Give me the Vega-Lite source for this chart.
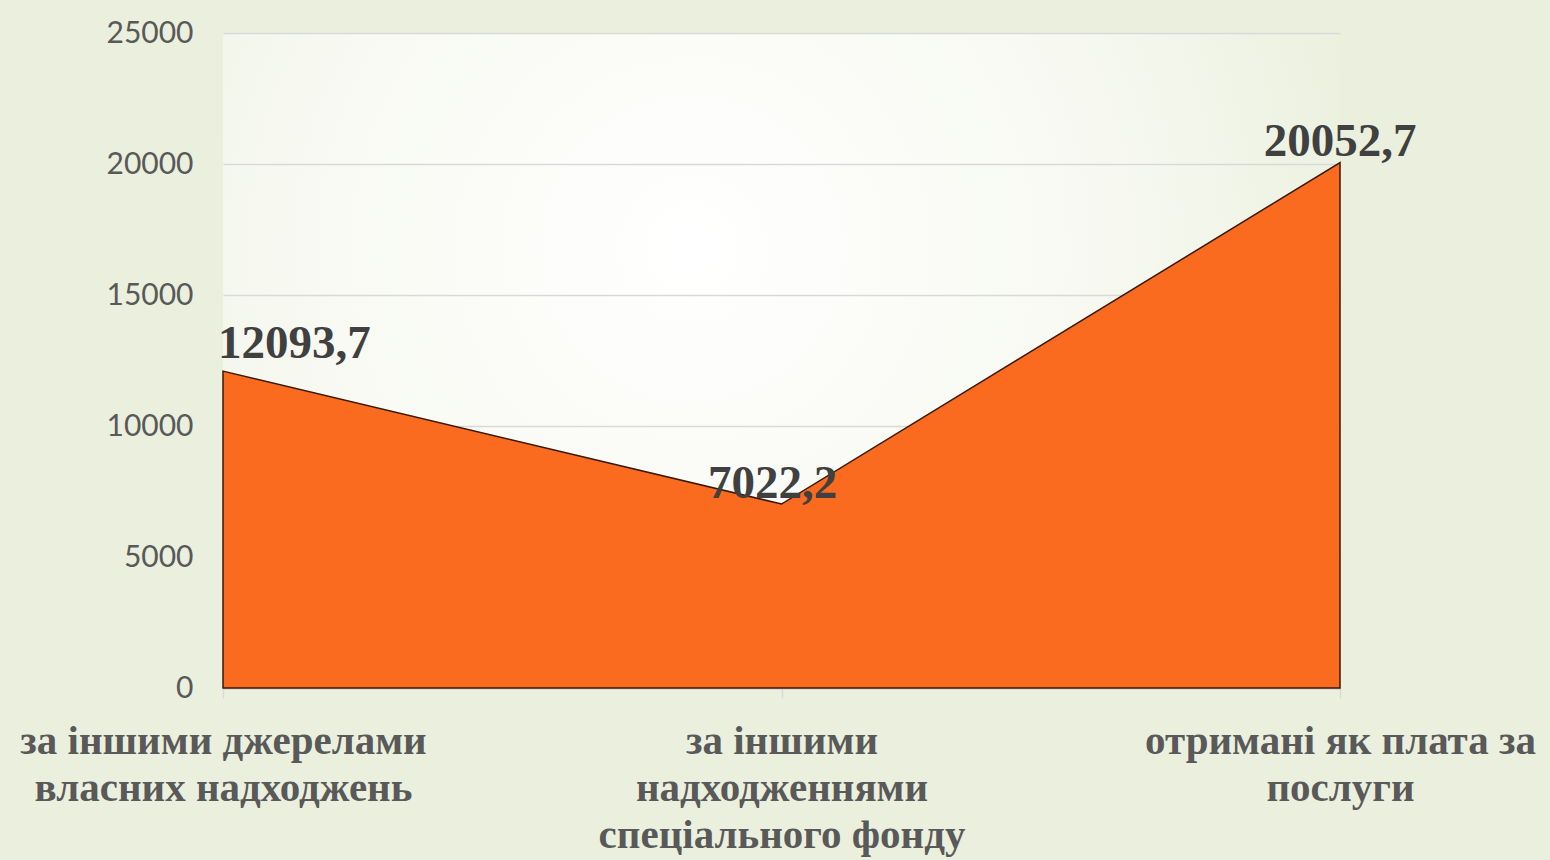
{
  "$schema": "https://vega.github.io/schema/vega-lite/v6.json",
  "width": 1117,
  "height": 655,
  "autosize": {"type": "none"},
  "padding": {"left": 223, "top": 33, "right": 210, "bottom": 172},
  "background": "#EBF0DE",
  "config": {
    "locale": {"number": {"decimal": ",", "thousands": "", "grouping": [3], "currency": ["", ""]}},
    "view": {
      "stroke": null,
      "fill": {
        "gradient": "radial",
        "x1": 0.42, "y1": 0.4, "r1": 0,
        "x2": 0.42, "y2": 0.4, "r2": 0.62,
        "stops": [
          {"offset": 0, "color": "#FFFFFF"},
          {"offset": 0.6, "color": "#F7F9F1"},
          {"offset": 1, "color": "#EBF0DE"}
        ]
      }
    }
  },
  "data": {
    "values": [
      {"cat": "за іншими джерелами|власних надходжень", "value": 12093.7},
      {"cat": "за іншими|надходженнями|спеціального фонду", "value": 7022.2},
      {"cat": "отримані як плата за|послуги", "value": 20052.7}
    ]
  },
  "encoding": {
    "x": {
      "field": "cat",
      "type": "nominal",
      "sort": null,
      "scale": {"type": "point", "padding": 0},
      "axis": {
        "title": null,
        "labelAngle": 0,
        "labelExpr": "split(datum.value, '|')",
        "labelFont": "Liberation Serif",
        "labelFontWeight": "bold",
        "labelFontSize": 41,
        "labelColor": "#595959",
        "labelLineHeight": 47,
        "labelBaseline": "alphabetic",
        "labelPadding": 55,
        "labelLimit": 0,
        "labelOverlap": false,
        "labelBound": false,
        "labelFlush": false,
        "domainColor": "#D0D0D0",
        "domainWidth": 2,
        "tickColor": "#D9D9D9",
        "tickWidth": 1.5,
        "tickSize": 10,
        "grid": false
      }
    },
    "y": {
      "field": "value",
      "type": "quantitative",
      "scale": {"domain": [0, 25000], "nice": false},
      "axis": {
        "title": null,
        "values": [0, 5000, 10000, 15000, 20000, 25000],
        "format": "d",
        "labelFont": "Lato",
        "labelFontWeight": "normal",
        "labelFontSize": 30,
        "labelColor": "#595959",
        "labelPadding": 30,
        "domain": false,
        "ticks": false,
        "gridColor": "#D9D9D9",
        "gridWidth": 1.5
      }
    }
  },
  "layer": [
    {
      "mark": {"type": "area", "color": "#FA6A1F", "fillOpacity": 1, "stroke": "#3A1808", "strokeWidth": 1.5}
    },
    {
      "transform": [{"filter": "datum.value > 12000 && datum.value < 13000"}],
      "mark": {"type": "text", "font": "Liberation Serif", "fontWeight": "bold", "fontSize": 47, "color": "#404040", "align": "left", "baseline": "alphabetic", "dx": -5, "dy": -13},
      "encoding": {"text": {"field": "value", "type": "quantitative", "format": ".1f"}}
    },
    {
      "transform": [{"filter": "datum.value < 8000"}],
      "mark": {"type": "text", "font": "Liberation Serif", "fontWeight": "bold", "fontSize": 47, "color": "#404040", "align": "center", "baseline": "alphabetic", "dx": -9, "dy": -6},
      "encoding": {"text": {"field": "value", "type": "quantitative", "format": ".1f"}}
    },
    {
      "transform": [{"filter": "datum.value > 20000"}],
      "mark": {"type": "text", "font": "Liberation Serif", "fontWeight": "bold", "fontSize": 47, "color": "#404040", "align": "center", "baseline": "alphabetic", "dx": 0, "dy": -7},
      "encoding": {"text": {"field": "value", "type": "quantitative", "format": ".1f"}}
    }
  ]
}
